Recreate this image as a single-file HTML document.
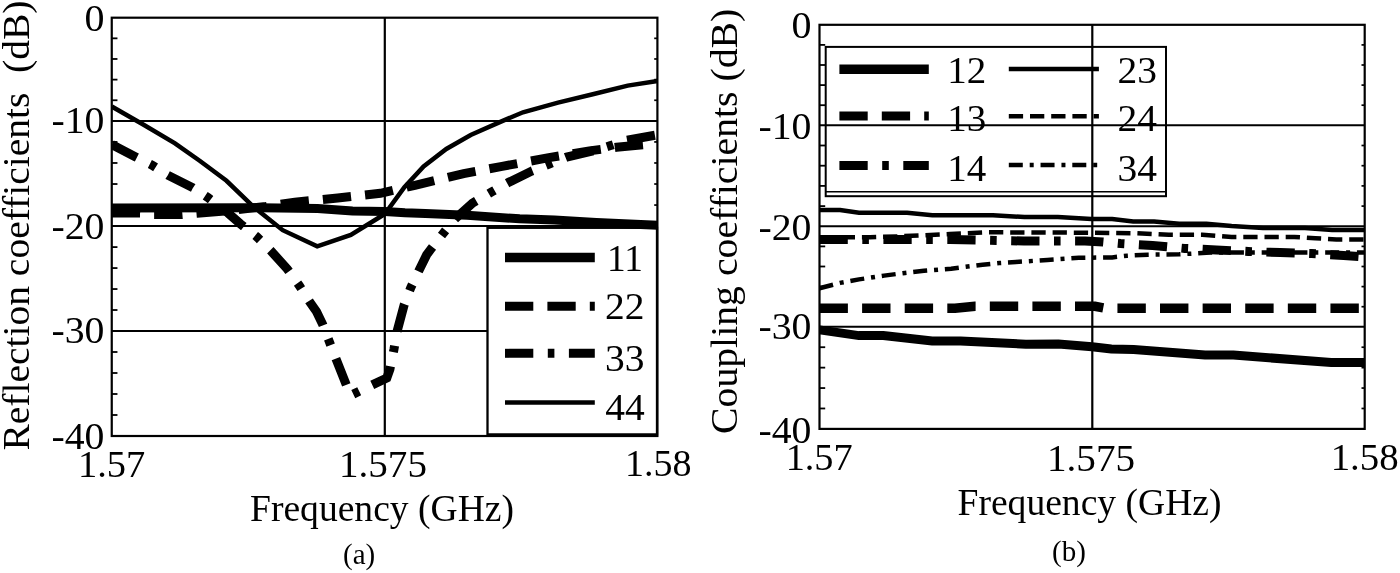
<!DOCTYPE html>
<html lang="en">
<head>
<meta charset="utf-8">
<title>Reflection and coupling coefficients</title>
<style>
html,body{margin:0;padding:0;background:#fff;}
body{width:1400px;height:573px;overflow:hidden;font-family:"Liberation Serif", "DejaVu Serif", serif;}
svg{display:block;filter:grayscale(1);}
</style>
</head>
<body>
<svg width="1400" height="573" viewBox="0 0 1400 573" font-family='"Liberation Serif", "DejaVu Serif", serif' fill="#000">
<rect width="1400" height="573" fill="#fff"/>
<defs><clipPath id="ca"><rect x="111.75" y="0" width="548.25" height="573"/></clipPath><clipPath id="cb"><rect x="819.5" y="0" width="547.8000000000001" height="573"/></clipPath></defs>
<g id="plotA">
<line x1="111.75" y1="120.9" x2="657.4" y2="120.9" stroke="#000" stroke-width="2"/>
<line x1="111.75" y1="226.1" x2="657.4" y2="226.1" stroke="#000" stroke-width="2"/>
<line x1="111.75" y1="331.0" x2="657.4" y2="331.0" stroke="#000" stroke-width="2"/>
<line x1="384.8" y1="17.7" x2="384.8" y2="436.0" stroke="#000" stroke-width="2.2"/>
<line x1="111.75" y1="38.34" x2="117.45" y2="38.34" stroke="#000" stroke-width="1.8"/>
<line x1="654.1999999999999" y1="38.34" x2="657.4" y2="38.34" stroke="#000" stroke-width="1.7"/>
<line x1="111.75" y1="58.98" x2="117.45" y2="58.98" stroke="#000" stroke-width="1.8"/>
<line x1="654.1999999999999" y1="58.98" x2="657.4" y2="58.98" stroke="#000" stroke-width="1.7"/>
<line x1="111.75" y1="79.62" x2="117.45" y2="79.62" stroke="#000" stroke-width="1.8"/>
<line x1="654.1999999999999" y1="79.62" x2="657.4" y2="79.62" stroke="#000" stroke-width="1.7"/>
<line x1="111.75" y1="100.26" x2="117.45" y2="100.26" stroke="#000" stroke-width="1.8"/>
<line x1="654.1999999999999" y1="100.26" x2="657.4" y2="100.26" stroke="#000" stroke-width="1.7"/>
<line x1="111.75" y1="141.94" x2="117.45" y2="141.94" stroke="#000" stroke-width="1.8"/>
<line x1="654.1999999999999" y1="141.94" x2="657.4" y2="141.94" stroke="#000" stroke-width="1.7"/>
<line x1="111.75" y1="162.98" x2="117.45" y2="162.98" stroke="#000" stroke-width="1.8"/>
<line x1="654.1999999999999" y1="162.98" x2="657.4" y2="162.98" stroke="#000" stroke-width="1.7"/>
<line x1="111.75" y1="184.02" x2="117.45" y2="184.02" stroke="#000" stroke-width="1.8"/>
<line x1="654.1999999999999" y1="184.02" x2="657.4" y2="184.02" stroke="#000" stroke-width="1.7"/>
<line x1="111.75" y1="205.06" x2="117.45" y2="205.06" stroke="#000" stroke-width="1.8"/>
<line x1="654.1999999999999" y1="205.06" x2="657.4" y2="205.06" stroke="#000" stroke-width="1.7"/>
<line x1="111.75" y1="247.08" x2="117.45" y2="247.08" stroke="#000" stroke-width="1.8"/>
<line x1="654.1999999999999" y1="247.08" x2="657.4" y2="247.08" stroke="#000" stroke-width="1.7"/>
<line x1="111.75" y1="268.06" x2="117.45" y2="268.06" stroke="#000" stroke-width="1.8"/>
<line x1="654.1999999999999" y1="268.06" x2="657.4" y2="268.06" stroke="#000" stroke-width="1.7"/>
<line x1="111.75" y1="289.04" x2="117.45" y2="289.04" stroke="#000" stroke-width="1.8"/>
<line x1="654.1999999999999" y1="289.04" x2="657.4" y2="289.04" stroke="#000" stroke-width="1.7"/>
<line x1="111.75" y1="310.02" x2="117.45" y2="310.02" stroke="#000" stroke-width="1.8"/>
<line x1="654.1999999999999" y1="310.02" x2="657.4" y2="310.02" stroke="#000" stroke-width="1.7"/>
<line x1="111.75" y1="352.00" x2="117.45" y2="352.00" stroke="#000" stroke-width="1.8"/>
<line x1="654.1999999999999" y1="352.00" x2="657.4" y2="352.00" stroke="#000" stroke-width="1.7"/>
<line x1="111.75" y1="373.00" x2="117.45" y2="373.00" stroke="#000" stroke-width="1.8"/>
<line x1="654.1999999999999" y1="373.00" x2="657.4" y2="373.00" stroke="#000" stroke-width="1.7"/>
<line x1="111.75" y1="394.00" x2="117.45" y2="394.00" stroke="#000" stroke-width="1.8"/>
<line x1="654.1999999999999" y1="394.00" x2="657.4" y2="394.00" stroke="#000" stroke-width="1.7"/>
<line x1="111.75" y1="415.00" x2="117.45" y2="415.00" stroke="#000" stroke-width="1.8"/>
<line x1="654.1999999999999" y1="415.00" x2="657.4" y2="415.00" stroke="#000" stroke-width="1.7"/>
<rect x="487.5" y="227.8" width="169.5" height="206.59999999999997" fill="#fff" stroke="#000" stroke-width="2.3"/>
<rect x="111.75" y="17.7" width="545.65" height="418.3" fill="none" stroke="#000" stroke-width="2.2"/>
<polyline points="111.8,213.0 140.0,213.0 153.0,214.5 182.0,214.5 197.0,213.3 225.0,211.0 266.0,206.5 294.9,202.2 337.7,198.0 380.4,193.3 414.9,185.3 463.7,173.6 502.1,166.4 547.5,157.9 589.4,150.9 616.5,147.2 645.4,144.6 657.4,143.6" fill="none" stroke="#000" stroke-width="9.0" stroke-linejoin="miter" stroke-dasharray="28.3 14.1" clip-path="url(#ca)"/>
<polyline points="111.8,144.5 135.7,157.0 152.5,165.4 167.8,175.2 193.0,187.8 207.8,197.5 228.0,213.0 240.5,224.0 256.7,236.7 271.4,251.4 287.1,268.8 299.3,285.6 309.8,302.0 316.6,311.8 322.5,324.0 336.2,359.4 350.5,395.5 372.1,385.0 386.8,378.0 389.9,369.2 393.9,349.6 397.1,331.3 404.3,304.4 410.7,287.8 418.9,270.6 426.6,254.9 431.8,247.9 443.3,233.3 455.0,218.8 472.5,203.1 491.7,191.9 509.1,182.1 531.8,171.0 549.2,164.0 566.7,157.0 596.3,150.0 609.8,145.8 625.9,140.5 655.2,135.2 657.4,134.9" fill="none" stroke="#000" stroke-width="9.0" stroke-linejoin="miter" stroke-dasharray="28.3 14.5 6.6 14.5" clip-path="url(#ca)"/>
<polyline points="111.8,208.0 260.0,207.7 317.6,208.4 352.5,211.0 384.8,211.6 404.9,212.8 425.4,213.5 467.2,215.3 519.6,218.8 554.5,220.0 596.3,222.5 657.5,225.2" fill="none" stroke="#000" stroke-width="9.0" stroke-linejoin="miter" clip-path="url(#ca)"/>
<polyline points="111.8,106.5 143.6,124.8 175.0,143.3 200.0,161.0 226.5,180.8 251.7,205.0 260.0,211.9 282.7,230.2 317.2,246.4 350.8,234.9 384.8,214.0 404.4,187.2 423.6,166.4 446.3,149.0 470.7,135.0 502.1,121.1 523.0,112.3 558.0,102.6 592.8,94.2 627.7,85.6 657.5,81.0" fill="none" stroke="#000" stroke-width="4.5" stroke-linejoin="miter" clip-path="url(#ca)"/>
<line x1="505" y1="257.4" x2="594.8" y2="257.4" stroke="#000" stroke-width="9.5"/>
<line x1="505" y1="306.2" x2="594.8" y2="306.2" stroke="#000" stroke-width="9.0" stroke-dasharray="28.3 14.1"/>
<line x1="505" y1="353.3" x2="594.8" y2="353.3" stroke="#000" stroke-width="9.0" stroke-dasharray="28.3 14.5 6.6 14.5"/>
<line x1="505" y1="402.5" x2="594.8" y2="402.5" stroke="#000" stroke-width="4.5"/>
<text x="607" y="270.7" font-size="37" text-anchor="start" textLength="36" lengthAdjust="spacingAndGlyphs">11</text>
<text x="605" y="319" font-size="37" text-anchor="start" textLength="39.5" lengthAdjust="spacingAndGlyphs">22</text>
<text x="605" y="371.3" font-size="37" text-anchor="start" textLength="39.5" lengthAdjust="spacingAndGlyphs">33</text>
<text x="605.3" y="420.2" font-size="37" text-anchor="start" textLength="39.5" lengthAdjust="spacingAndGlyphs">44</text>
<text x="104.5" y="31.0" font-size="37" text-anchor="end" textLength="20" lengthAdjust="spacingAndGlyphs">0</text>
<text x="104.5" y="133.3" font-size="37" text-anchor="end" textLength="53" lengthAdjust="spacingAndGlyphs">-10</text>
<text x="104.5" y="238.5" font-size="37" text-anchor="end" textLength="53" lengthAdjust="spacingAndGlyphs">-20</text>
<text x="104.5" y="343.2" font-size="37" text-anchor="end" textLength="53" lengthAdjust="spacingAndGlyphs">-30</text>
<text x="104.5" y="449.4" font-size="37" text-anchor="end" textLength="53" lengthAdjust="spacingAndGlyphs">-40</text>
<text x="111.65" y="477.2" font-size="37" text-anchor="middle" textLength="67.3" lengthAdjust="spacingAndGlyphs">1.57</text>
<text x="383.0" y="477.2" font-size="37" text-anchor="middle" textLength="87.8" lengthAdjust="spacingAndGlyphs">1.575</text>
<text x="658.2" y="476.2" font-size="37" text-anchor="middle" textLength="66.5" lengthAdjust="spacingAndGlyphs">1.58</text>
<text x="382" y="521.3" font-size="37" text-anchor="middle" textLength="264" lengthAdjust="spacingAndGlyphs">Frequency (GHz)</text>
<text x="359.2" y="564.2" font-size="29" text-anchor="middle">(a)</text>
<text transform="translate(29.4,450.5) rotate(-90)" font-size="37.5" text-anchor="start" xml:space="preserve" textLength="450" lengthAdjust="spacingAndGlyphs">Reflection coefficients  (dB)</text>
</g>
<g id="plotB">
<rect x="825.7" y="46.9" width="340.29999999999995" height="149.29999999999998" fill="#fff" stroke="#000" stroke-width="2"/>
<line x1="826" y1="191.8" x2="1166" y2="191.8" stroke="#000" stroke-width="1.6"/>
<line x1="819.5" y1="125.3" x2="1364.7" y2="125.3" stroke="#000" stroke-width="2"/>
<line x1="819.5" y1="226.3" x2="1364.7" y2="226.3" stroke="#000" stroke-width="2"/>
<line x1="819.5" y1="326.8" x2="1364.7" y2="326.8" stroke="#000" stroke-width="2"/>
<line x1="1092.3" y1="24.8" x2="1092.3" y2="428.9" stroke="#000" stroke-width="2.2"/>
<line x1="819.5" y1="44.90" x2="825.2" y2="44.90" stroke="#000" stroke-width="1.8"/>
<line x1="1361.5" y1="44.90" x2="1364.7" y2="44.90" stroke="#000" stroke-width="1.7"/>
<line x1="819.5" y1="65.00" x2="825.2" y2="65.00" stroke="#000" stroke-width="1.8"/>
<line x1="1361.5" y1="65.00" x2="1364.7" y2="65.00" stroke="#000" stroke-width="1.7"/>
<line x1="819.5" y1="85.10" x2="825.2" y2="85.10" stroke="#000" stroke-width="1.8"/>
<line x1="1361.5" y1="85.10" x2="1364.7" y2="85.10" stroke="#000" stroke-width="1.7"/>
<line x1="819.5" y1="105.20" x2="825.2" y2="105.20" stroke="#000" stroke-width="1.8"/>
<line x1="1361.5" y1="105.20" x2="1364.7" y2="105.20" stroke="#000" stroke-width="1.7"/>
<line x1="819.5" y1="145.50" x2="825.2" y2="145.50" stroke="#000" stroke-width="1.8"/>
<line x1="1361.5" y1="145.50" x2="1364.7" y2="145.50" stroke="#000" stroke-width="1.7"/>
<line x1="819.5" y1="165.70" x2="825.2" y2="165.70" stroke="#000" stroke-width="1.8"/>
<line x1="1361.5" y1="165.70" x2="1364.7" y2="165.70" stroke="#000" stroke-width="1.7"/>
<line x1="819.5" y1="185.90" x2="825.2" y2="185.90" stroke="#000" stroke-width="1.8"/>
<line x1="1361.5" y1="185.90" x2="1364.7" y2="185.90" stroke="#000" stroke-width="1.7"/>
<line x1="819.5" y1="206.10" x2="825.2" y2="206.10" stroke="#000" stroke-width="1.8"/>
<line x1="1361.5" y1="206.10" x2="1364.7" y2="206.10" stroke="#000" stroke-width="1.7"/>
<line x1="819.5" y1="246.40" x2="825.2" y2="246.40" stroke="#000" stroke-width="1.8"/>
<line x1="1361.5" y1="246.40" x2="1364.7" y2="246.40" stroke="#000" stroke-width="1.7"/>
<line x1="819.5" y1="266.50" x2="825.2" y2="266.50" stroke="#000" stroke-width="1.8"/>
<line x1="1361.5" y1="266.50" x2="1364.7" y2="266.50" stroke="#000" stroke-width="1.7"/>
<line x1="819.5" y1="286.60" x2="825.2" y2="286.60" stroke="#000" stroke-width="1.8"/>
<line x1="1361.5" y1="286.60" x2="1364.7" y2="286.60" stroke="#000" stroke-width="1.7"/>
<line x1="819.5" y1="306.70" x2="825.2" y2="306.70" stroke="#000" stroke-width="1.8"/>
<line x1="1361.5" y1="306.70" x2="1364.7" y2="306.70" stroke="#000" stroke-width="1.7"/>
<line x1="819.5" y1="347.22" x2="825.2" y2="347.22" stroke="#000" stroke-width="1.8"/>
<line x1="1361.5" y1="347.22" x2="1364.7" y2="347.22" stroke="#000" stroke-width="1.7"/>
<line x1="819.5" y1="367.64" x2="825.2" y2="367.64" stroke="#000" stroke-width="1.8"/>
<line x1="1361.5" y1="367.64" x2="1364.7" y2="367.64" stroke="#000" stroke-width="1.7"/>
<line x1="819.5" y1="388.06" x2="825.2" y2="388.06" stroke="#000" stroke-width="1.8"/>
<line x1="1361.5" y1="388.06" x2="1364.7" y2="388.06" stroke="#000" stroke-width="1.7"/>
<line x1="819.5" y1="408.48" x2="825.2" y2="408.48" stroke="#000" stroke-width="1.8"/>
<line x1="1361.5" y1="408.48" x2="1364.7" y2="408.48" stroke="#000" stroke-width="1.7"/>
<rect x="819.5" y="24.8" width="545.2" height="404.09999999999997" fill="none" stroke="#000" stroke-width="2.2"/>
<polyline points="819.5,308.2 955.0,308.2 975.0,306.3 1095.0,306.3 1105.0,308.2 1364.7,308.2" fill="none" stroke="#000" stroke-width="9.5" stroke-linejoin="miter" stroke-dasharray="28.4 14.2" clip-path="url(#cb)"/>
<polyline points="819.5,239.4 950.0,239.6 1024.0,241.0 1085.0,241.1 1103.0,242.0 1120.6,243.6 1152.5,245.5 1184.7,248.4 1216.4,249.9 1248.3,251.5 1280.3,252.6 1311.7,253.6 1343.6,255.4 1364.7,257.0" fill="none" stroke="#000" stroke-width="9.0" stroke-linejoin="miter" stroke-dasharray="28.3 14.5 6.6 14.5" clip-path="url(#cb)"/>
<polyline points="819.5,237.4 870.0,237.2 900.0,236.3 950.0,234.0 988.8,232.3 1085.0,232.7 1137.3,233.3 1168.8,234.8 1202.3,234.8 1231.6,236.9 1294.4,236.9 1315.3,238.3 1336.3,239.4 1364.7,239.4" fill="none" stroke="#000" stroke-width="4.5" stroke-linejoin="miter" stroke-dasharray="14.3 6.9" clip-path="url(#cb)"/>
<polyline points="819.5,288.2 840.1,282.9 859.0,279.4 884.1,275.6 905.0,272.9 923.9,270.8 951.1,268.7 982.5,264.7 999.3,263.0 1016.0,262.0 1047.4,259.9 1078.8,257.8 1112.2,257.4 1126.9,255.7 1147.8,254.7 1179.2,254.3 1210.6,252.6 1364.7,252.6" fill="none" stroke="#000" stroke-width="4.5" stroke-linejoin="miter" stroke-dasharray="14 6.9 4 6.85" clip-path="url(#cb)"/>
<polyline points="819.5,210.1 840.1,210.1 859.0,212.8 907.1,212.8 932.3,215.3 993.0,215.3 1024.4,217.0 1057.9,217.0 1091.4,219.1 1112.2,219.1 1133.2,221.6 1154.1,221.6 1179.2,223.7 1206.4,223.7 1231.6,226.0 1263.0,228.1 1304.9,228.1 1332.1,230.0 1364.7,230.0" fill="none" stroke="#000" stroke-width="4.5" stroke-linejoin="miter" clip-path="url(#cb)"/>
<polyline points="819.5,329.9 858.9,335.6 883.3,335.6 932.1,340.9 960.6,340.9 1025.8,344.2 1058.4,344.0 1092.0,346.7 1111.3,349.0 1133.7,349.4 1205.0,355.1 1233.4,355.1 1331.2,362.5 1364.7,362.5" fill="none" stroke="#000" stroke-width="9.0" stroke-linejoin="miter" clip-path="url(#cb)"/>
<line x1="839.4" y1="69.2" x2="928.8" y2="69.2" stroke="#000" stroke-width="9.5"/>
<line x1="839.4" y1="116.1" x2="928.8" y2="116.1" stroke="#000" stroke-width="9.0" stroke-dasharray="28.3 14.1"/>
<line x1="839.4" y1="165.6" x2="928.8" y2="165.6" stroke="#000" stroke-width="9.0" stroke-dasharray="28.3 14.5 6.6 14.5"/>
<line x1="1008.8" y1="69.1" x2="1098.9" y2="69.1" stroke="#000" stroke-width="4.5"/>
<line x1="1008.8" y1="116.2" x2="1098.9" y2="116.2" stroke="#000" stroke-width="4.5" stroke-dasharray="14.3 6.9"/>
<line x1="1008.8" y1="164.9" x2="1098.9" y2="164.9" stroke="#000" stroke-width="4.5" stroke-dasharray="14 6.9 4 6.85"/>
<text x="947.2" y="82.5" font-size="37" text-anchor="start" textLength="39" lengthAdjust="spacingAndGlyphs">12</text>
<text x="947.2" y="131.3" font-size="37" text-anchor="start" textLength="39" lengthAdjust="spacingAndGlyphs">13</text>
<text x="947.2" y="181" font-size="37" text-anchor="start" textLength="39" lengthAdjust="spacingAndGlyphs">14</text>
<text x="1117.5" y="82.5" font-size="37" text-anchor="start" textLength="39.5" lengthAdjust="spacingAndGlyphs">23</text>
<text x="1117.5" y="131.3" font-size="37" text-anchor="start" textLength="39.5" lengthAdjust="spacingAndGlyphs">24</text>
<text x="1117.5" y="181" font-size="37" text-anchor="start" textLength="39.5" lengthAdjust="spacingAndGlyphs">34</text>
<text x="811.5" y="38.2" font-size="37" text-anchor="end" textLength="20" lengthAdjust="spacingAndGlyphs">0</text>
<text x="811.5" y="138.6" font-size="37" text-anchor="end" textLength="53" lengthAdjust="spacingAndGlyphs">-10</text>
<text x="811.5" y="240.20000000000002" font-size="37" text-anchor="end" textLength="53" lengthAdjust="spacingAndGlyphs">-20</text>
<text x="811.5" y="339.4" font-size="37" text-anchor="end" textLength="53" lengthAdjust="spacingAndGlyphs">-30</text>
<text x="811.5" y="442.59999999999997" font-size="37" text-anchor="end" textLength="53" lengthAdjust="spacingAndGlyphs">-40</text>
<text x="819.15" y="470.3" font-size="37" text-anchor="middle" textLength="67" lengthAdjust="spacingAndGlyphs">1.57</text>
<text x="1091.0" y="470.5" font-size="37" text-anchor="middle" textLength="88" lengthAdjust="spacingAndGlyphs">1.575</text>
<text x="1364.7" y="470.3" font-size="37" text-anchor="middle" textLength="68" lengthAdjust="spacingAndGlyphs">1.58</text>
<text x="1089.5" y="515" font-size="37" text-anchor="middle" textLength="264" lengthAdjust="spacingAndGlyphs">Frequency (GHz)</text>
<text x="1069" y="561.4" font-size="29" text-anchor="middle">(b)</text>
<text transform="translate(737.2,434.0) rotate(-90)" font-size="37.5" text-anchor="start" xml:space="preserve" textLength="425.3" lengthAdjust="spacingAndGlyphs">Coupling coefficients (dB)</text>
</g>
</svg>
</body>
</html>
